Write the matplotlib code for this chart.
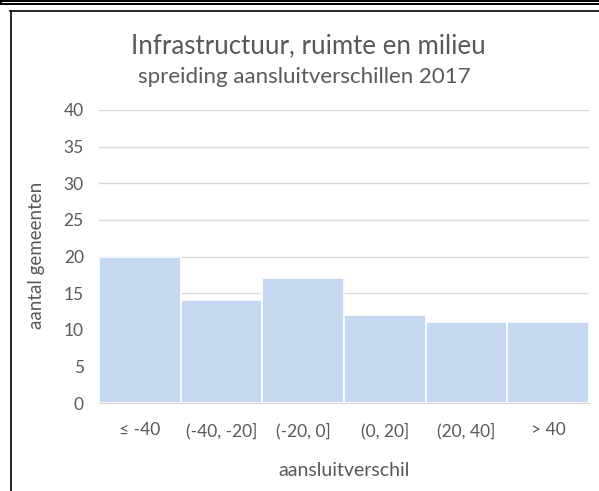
import matplotlib
matplotlib.use("Agg")
import matplotlib.pyplot as plt
from matplotlib.lines import Line2D

categories = ["≤ -40", "(-40, -20]", "(-20, 0]", "(0, 20]", "(20, 40]", "> 40"]
counts = [20, 14, 17, 12, 11, 11]
yticks = [0, 5, 10, 15, 20, 25, 30, 35, 40]

plt.rcParams['font.family'] = ['Lato', 'DejaVu Sans']
W, H = 599, 491
fig = plt.figure(figsize=(W/100, H/100), dpi=100)
ax = fig.add_axes([99/W, 1-403/H, (589-99)/W, (403-110)/H])

txt = '#595959'
ax.set_axisbelow(True)
ax.yaxis.grid(True, color='#D9D9D9', lw=1)
ax.bar(range(len(counts)), counts, width=1.0, color='#C6D9F0', edgecolor='white', lw=1.2, zorder=2)
ax.set_xlim(-0.5, len(counts)-0.5)
ax.set_ylim(0, 40)
ax.set_yticks(yticks)
ax.set_xticks(range(len(categories)))
ax.set_xticklabels(categories)
for s in ['top', 'right', 'left']:
    ax.spines[s].set_visible(False)
ax.spines['bottom'].set_color('#D9D9D9')
ax.tick_params(length=0, colors=txt, labelsize=12.5)
ax.tick_params(axis='y', pad=11)
ax.tick_params(axis='x', pad=14)

fig.text(37/W, 1-255/H, 'aantal gemeenten', rotation=90, ha='center', va='center', color=txt, fontsize=13.5)
fig.text(344/W, 1-476/H, 'aansluitverschil', ha='center', va='baseline', color=txt, fontsize=14)

fig.text(308/W, 1-53/H, 'Infrastructuur, ruimte en milieu', ha='center', va='baseline', color=txt, fontsize=18.6)
fig.text(304/W, 1-83/H, 'spreiding aansluitverschillen 2017', ha='center', va='baseline', color=txt, fontsize=16)

def hline(y, x0, x1, lw):
    fig.add_artist(Line2D([x0/W, x1/W], [1-y/H, 1-y/H], color='black', lw=lw))
def vline(x, y0, y1, lw):
    fig.add_artist(Line2D([x/W, x/W], [1-y0/H, 1-y1/H], color='black', lw=lw))

hline(0.8, 0, W, 1.4)
hline(3.5, 0, W, 1.4)
vline(0.7, 0, 4, 1.4)
hline(11, 10, W, 1.2)
vline(10.5, 11, H, 1.2)

fig.savefig('out.png', dpi=100)
